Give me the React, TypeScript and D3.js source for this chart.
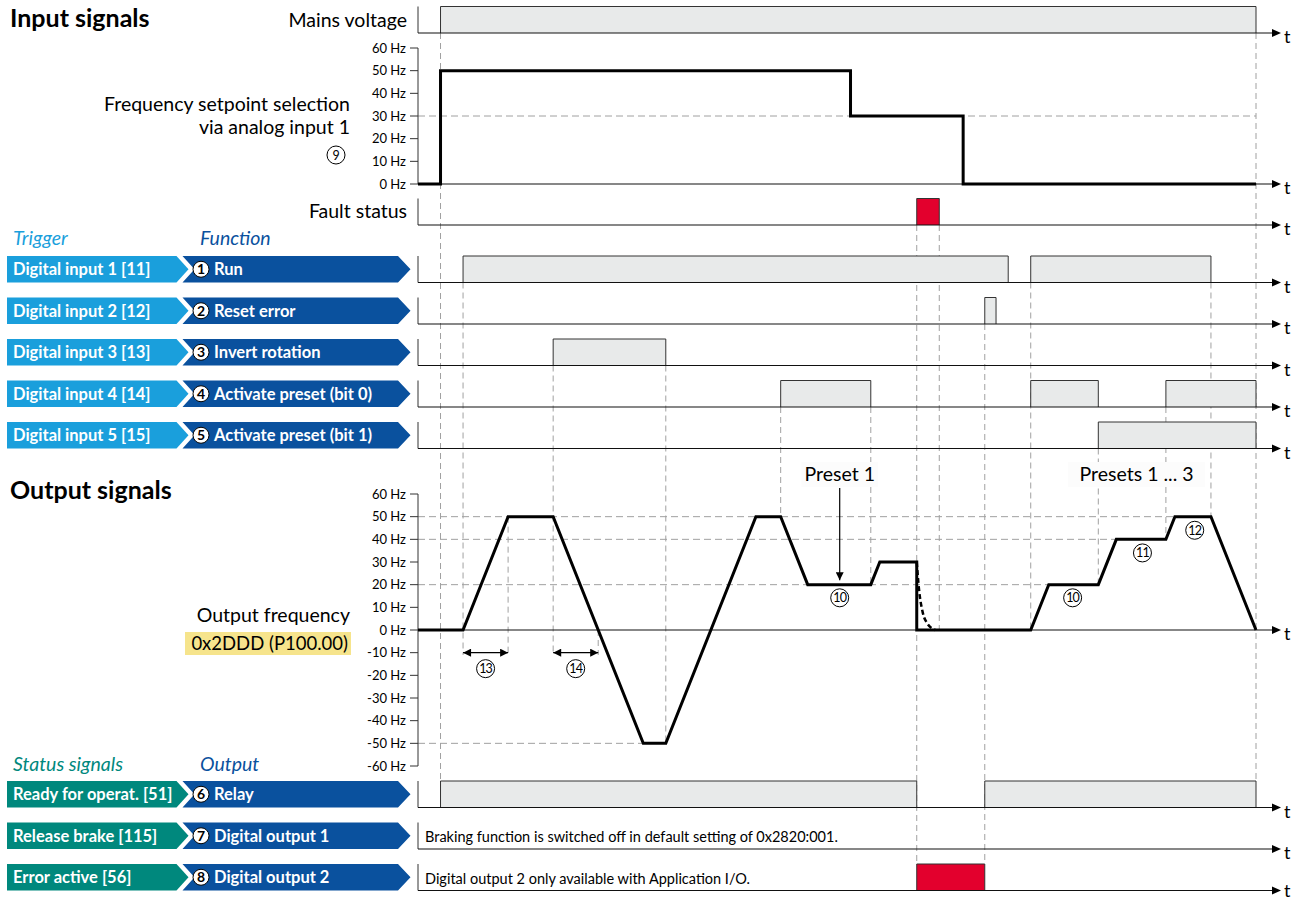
import * as d3 from 'd3';

const FONT = 'Lato, "Open Sans", Arial, sans-serif';

// time axis in seconds (ramp: 50 Hz per second)
const T_END = 18.6;

// ---- input signals ----
const mainsOn: [number, number][] = [[0.5, 18.6]];
const setpointTicks = [0, 10, 20, 30, 40, 50, 60];
const setpointHz: [number, number][] = [
  [0, 0], [0.5, 0], [0.5, 50], [9.6, 50], [9.6, 30], [12.1, 30], [12.1, 0], [18.6, 0],
];
const setpointRefs: [number, number][] = [[30, 18.6]];
const faultOn: [number, number][] = [[11.07, 11.57]];

const triggerNames = [
  'Digital input 1 [11]',
  'Digital input 2 [12]',
  'Digital input 3 [13]',
  'Digital input 4 [14]',
  'Digital input 5 [15]',
];
const functionNames = ['Run', 'Reset error', 'Invert rotation', 'Activate preset (bit 0)', 'Activate preset (bit 1)'];
const inputPulses: [number, number][][] = [
  [[1.0, 13.1], [13.6, 17.6]],
  [[12.58, 12.83]],
  [[3.0, 5.5]],
  [[8.05, 10.05], [13.6, 15.1], [16.6, 18.6]],
  [[15.1, 18.6]],
];

// ---- output signals ----
const outputTicks = [60, 50, 40, 30, 20, 10, 0, -10, -20, -30, -40, -50, -60];
const outputHz: [number, number][] = [
  [0, 0], [1, 0], [2, 50], [3, 50], [5, -50], [5.5, -50], [7.5, 50], [8.05, 50], [8.65, 20],
  [10.05, 20], [10.25, 30], [11.07, 30], [11.07, 0], [13.6, 0], [14, 20], [15.1, 20], [15.5, 40],
  [16.6, 40], [16.8, 50], [17.6, 50], [18.6, 0],
];
const coastHz: [number, number][] = [[11.07, 30], [11.12, 18], [11.2, 8], [11.3, 3], [11.48, 0]];
const outputRefs: [number, number][] = [[50, 16.8], [40, 15.5], [20, 14.0], [-50, 5.0]];
const rampSpans = [
  { from: 1, to: 2, hz: -10, n: 13 },
  { from: 3, to: 4, hz: -10, n: 14 },
];
const markers = [
  { n: 10, t: 9.36, hz: 14.2 },
  { n: 10, t: 14.53, hz: 14.2 },
  { n: 11, t: 16.08, hz: 34 },
  { n: 12, t: 17.24, hz: 44 },
];
const presetLabels = [
  { text: 'Preset 1', t: 9.36, arrowTo: 22 },
  { text: 'Presets 1 ... 3', t: 15.95, arrowTo: null as number | null },
];

const statusNames = ['Ready for operat. [51]', 'Release brake [115]', 'Error active [56]'];
const outputNames = ['Relay', 'Digital output 1', 'Digital output 2'];
const statusPulses: [number, number][][] = [[[0.5, 11.07], [12.58, 18.6]], [], [[11.07, 12.58]]];
const statusNotes = [
  '',
  'Braking function is switched off in default setting of 0x2820:001.',
  'Digital output 2 only available with Application I/O.',
];

// dashed time guides: [time, from, to] (row key or output Hz)
const guides: [number, string | number, string | number][] = [
  [0.5, 'mains', 'relayTop'],
  [1.0, 'di0', -11],
  [2.0, 50, -11],
  [3.0, 'di2', -11],
  [4.0, 0, -11],
  [5.5, 'di2', -50],
  [8.05, 'di3', 50],
  [10.05, 'di3', 20],
  [11.07, 'fault', 'st2Top'],
  [11.57, 'fault', 0],
  [12.58, 'di1', 'st2Top'],
  [13.6, 'di0', 0],
  [15.1, 'di4', 20],
  [16.6, 'di3', 40],
  [17.6, 'di0', 50],
  [18.6, 'mains', 'relayTop'],
];

const LIGHT = '#1a9fdc';
const DARK = '#0a519e';
const TEAL = '#00887d';
const RED = '#e3002d';
const GREY = '#e8eaea';
const DASH = '#a0a0a0';

const X0 = 418;
const AXIS_END = 1281;
const ROW_H = 26.5;
const LABEL = 19.5;

const x = d3.scaleLinear().domain([0, T_END]).range([X0, 1256]);
const ySet = d3.scaleLinear().domain([0, 60]).range([184, 48]);
const yOut = d3.scaleLinear().domain([-60, 60]).range([766, 494]);

const inputBase = d3.range(5).map(i => 282.5 + i * 41.5);
const statusBase = d3.range(3).map(i => 807.5 + i * 41.5);
const mainsBase = 33;
const faultBase = 225;

function anchorY(a: string | number): number {
  if (typeof a === 'number') return yOut(a);
  if (a === 'mains') return mainsBase;
  if (a === 'fault') return faultBase;
  if (a === 'relayTop') return statusBase[0] - ROW_H;
  if (a === 'st2Top') return statusBase[2] - ROW_H;
  if (a.startsWith('di')) return inputBase[+a.slice(2)];
  return 0;
}

const line = d3.line<[number, number]>();

function TimeAxis({ base, top, tDy = 10 }: { base: number; top: number; tDy?: number }) {
  return (
    <g>
      <line x1={X0} x2={X0} y1={top} y2={base} stroke="#333" strokeWidth={1} />
      <line x1={X0} x2={AXIS_END - 8} y1={base} y2={base} stroke="#111" strokeWidth={1.2} />
      <polygon points={`${AXIS_END - 9},${base - 4} ${AXIS_END},${base} ${AXIS_END - 9},${base + 4}`} fill="#000" />
      <text x={AXIS_END + 3} y={base + tDy} fontSize={18} fontFamily={FONT}>t</text>
    </g>
  );
}

function Pulses({ base, spans, fill }: { base: number; spans: [number, number][]; fill: string }) {
  return (
    <g>
      {spans.map(([a, b], i) => (
        <path
          key={i}
          d={line([[x(a), base], [x(a), base - ROW_H], [x(b), base - ROW_H], [x(b), base]])!}
          fill={fill}
          stroke="#333"
          strokeWidth={1}
        />
      ))}
    </g>
  );
}

function Circled({ cx, cy, n, r = 9, bold = false, size = 12.5 }: { cx: number; cy: number; n: number; r?: number; bold?: boolean; size?: number }) {
  return (
    <g>
      <circle cx={cx} cy={cy} r={r} fill="#fff" stroke="#000" strokeWidth={1} />
      <text
        x={cx}
        y={cy + size * 0.36}
        textAnchor="middle"
        fontSize={size}
        fontWeight={bold ? 700 : 400}
        fontFamily={FONT}
        letterSpacing={n > 9 ? -0.8 : 0}
      >
        {n}
      </text>
    </g>
  );
}

function Chevrons({ base, left, right, leftColor, n }: { base: number; left: string; right: string; leftColor: string; n: number }) {
  const T = base - ROW_H;
  const B = base;
  const M = (T + B) / 2;
  const l = `7,${T} 176.5,${T} 188.5,${M} 176.5,${B} 7,${B}`;
  const r = `182.5,${T} 398,${T} 410.5,${M} 398,${B} 182.5,${B} 194.5,${M}`;
  return (
    <g>
      <polygon points={l} fill={leftColor} />
      <polygon points={r} fill={DARK} />
      <text x={13} y={M + 5.8} fill="#fff" fontWeight={700} fontSize={16.5} fontFamily={FONT}>{left}</text>
      <Circled cx={201} cy={M} n={n} r={8} bold size={14} />
      <text x={214} y={M + 5.8} fill="#fff" fontWeight={700} fontSize={16.5} fontFamily={FONT}>{right}</text>
    </g>
  );
}

export default function App() {
  const labelStyle = { fontFamily: FONT, fontSize: LABEL };
  return (
    <svg
      width={1299}
      height={902}
      style={{ position: 'absolute', left: 0, top: 0, background: '#fff' }}
      fontFamily={FONT}
    >
      <defs>
        <marker id="ah" viewBox="0 0 10 10" refX={10} refY={5} markerWidth={9} markerHeight={8} markerUnits="userSpaceOnUse" orient="auto-start-reverse">
          <path d="M0,0 L10,5 L0,10 z" fill="#000" />
        </marker>
      </defs>

      {/* dashed guides */}
      {guides.map(([t, a, b], i) => (
        <line key={i} x1={x(t)} x2={x(t)} y1={anchorY(a)} y2={anchorY(b)} stroke={DASH} strokeWidth={1} strokeDasharray="6,4" />
      ))}
      {setpointRefs.map(([hz, t], i) => (
        <line key={i} x1={X0} x2={x(t)} y1={ySet(hz)} y2={ySet(hz)} stroke={DASH} strokeDasharray="7,4" />
      ))}
      {outputRefs.map(([hz, t], i) => (
        <line key={i} x1={X0} x2={x(t)} y1={yOut(hz)} y2={yOut(hz)} stroke={DASH} strokeDasharray="7,4" />
      ))}

      {/* preset labels */}
      {presetLabels.map((p, i) => {
        const w = p.text.length * 8.6 + 8;
        return (
          <g key={i}>
            <rect x={x(p.t) - w / 2} y={462} width={w} height={25} fill="#fcfcfc" />
            <text x={x(p.t)} y={481} textAnchor="middle" {...labelStyle}>{p.text}</text>
            {p.arrowTo !== null && (
              <line x1={x(p.t)} x2={x(p.t)} y1={488} y2={yOut(p.arrowTo)} stroke="#000" strokeWidth={1.2} markerEnd="url(#ah)" />
            )}
          </g>
        );
      })}

      {/* headings */}
      <text x={10} y={27} fontSize={25} fontWeight={700}>Input signals</text>
      <text x={10} y={499} fontSize={25} fontWeight={700}>Output signals</text>

      {/* mains */}
      <text x={407} y={27} textAnchor="end" {...labelStyle}>Mains voltage</text>
      <Pulses base={mainsBase} spans={mainsOn} fill={GREY} />
      <TimeAxis base={mainsBase} top={mainsBase - ROW_H} />

      {/* setpoint chart */}
      <text x={350} y={111} textAnchor="end" {...labelStyle}>Frequency setpoint selection</text>
      <text x={350} y={134} textAnchor="end" {...labelStyle}>via analog input 1</text>
      <Circled cx={336} cy={155} n={9} />
      <line x1={X0} x2={X0} y1={ySet(60)} y2={ySet(0)} stroke="#333" />
      {setpointTicks.map(v => (
        <g key={v}>
          <line x1={410} x2={X0} y1={ySet(v)} y2={ySet(v)} stroke="#333" />
          <text x={406} y={ySet(v) + 4.5} textAnchor="end" fontSize={13}>{v} Hz</text>
        </g>
      ))}
      <TimeAxis base={ySet(0)} top={ySet(0)} />
      <path d={line(setpointHz.map(([t, v]) => [x(t), ySet(v)]))!} fill="none" stroke="#000" strokeWidth={3} />

      {/* fault */}
      <text x={407} y={218} textAnchor="end" {...labelStyle}>Fault status</text>
      <Pulses base={faultBase} spans={faultOn} fill={RED} />
      <TimeAxis base={faultBase} top={faultBase - ROW_H} />

      {/* inputs */}
      <text x={13} y={245} fontSize={LABEL} fontStyle="italic" fill={LIGHT}>Trigger</text>
      <text x={200} y={245} fontSize={LABEL} fontStyle="italic" fill={DARK}>Function</text>
      {triggerNames.map((name, i) => (
        <g key={name}>
          <Chevrons base={inputBase[i]} left={name} right={functionNames[i]} leftColor={LIGHT} n={i + 1} />
          <Pulses base={inputBase[i]} spans={inputPulses[i]} fill={GREY} />
          <TimeAxis base={inputBase[i]} top={inputBase[i] - ROW_H} />
        </g>
      ))}

      {/* output chart */}
      <text x={350} y={622} textAnchor="end" {...labelStyle}>Output frequency</text>
      <rect x={185} y={632} width={166} height={23} fill="#f6e48c" />
      <text x={348} y={650} textAnchor="end" fontFamily={FONT} fontSize={18.5}>0x2DDD (P100.00)</text>
      <line x1={X0} x2={X0} y1={yOut(60)} y2={yOut(-60)} stroke="#333" />
      {outputTicks.map(v => (
        <g key={v}>
          <line x1={410} x2={X0} y1={yOut(v)} y2={yOut(v)} stroke="#333" />
          <text x={406} y={yOut(v) + 4.5} textAnchor="end" fontSize={13}>{v} Hz</text>
        </g>
      ))}
      <TimeAxis base={yOut(0)} top={yOut(0)} />
      <path d={line(outputHz.map(([t, v]) => [x(t), yOut(v)]))!} fill="none" stroke="#000" strokeWidth={3} strokeLinejoin="miter" />
      <path
        d={d3.line<[number, number]>().curve(d3.curveMonotoneX)(coastHz.map(([t, v]) => [x(t), yOut(v)]))!}
        fill="none"
        stroke="#000"
        strokeWidth={2.5}
        strokeDasharray="5,3"
      />
      {rampSpans.map((s, i) => (
        <g key={i}>
          <line x1={x(s.from)} x2={x(s.to)} y1={yOut(s.hz)} y2={yOut(s.hz)} stroke="#000" strokeWidth={1.2} markerStart="url(#ah)" markerEnd="url(#ah)" />
          <Circled cx={(x(s.from) + x(s.to)) / 2} cy={yOut(s.hz) + 16} n={s.n} />
        </g>
      ))}
      {markers.map((m, i) => (
        <Circled key={i} cx={x(m.t)} cy={yOut(m.hz)} n={m.n} />
      ))}

      {/* status */}
      <text x={13} y={771} fontSize={LABEL} fontStyle="italic" fill={TEAL}>Status signals</text>
      <text x={200} y={771} fontSize={LABEL} fontStyle="italic" fill={DARK}>Output</text>
      {statusNames.map((name, i) => (
        <g key={name}>
          <Chevrons base={statusBase[i]} left={name} right={outputNames[i]} leftColor={TEAL} n={i + 6} />
          <Pulses base={statusBase[i]} spans={statusPulses[i]} fill={i === 2 ? RED : GREY} />
          <TimeAxis base={statusBase[i]} top={statusBase[i] - ROW_H} tDy={i === 2 ? 6 : 10} />
          {statusNotes[i] && (
            <text x={425} y={statusBase[i] - 7} fontSize={14.5}>{statusNotes[i]}</text>
          )}
        </g>
      ))}
    </svg>
  );
}
